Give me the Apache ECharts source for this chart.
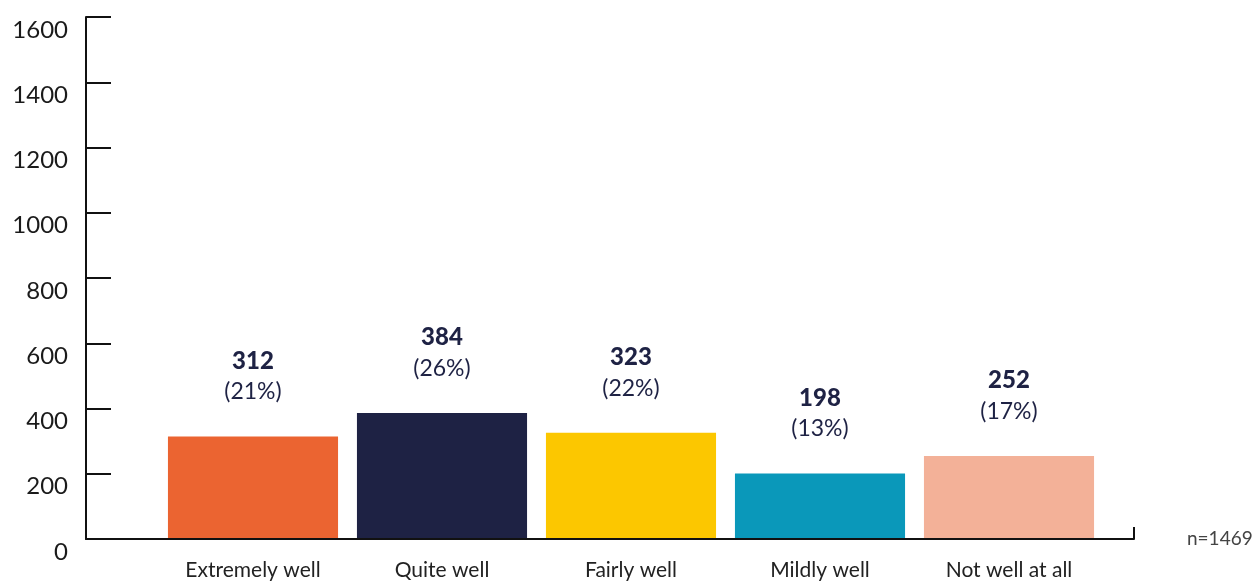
<!DOCTYPE html>
<html>
<head>
<meta charset="utf-8">
<script src="https://cdn.jsdelivr.net/npm/echarts@6/dist/echarts.min.js"></script>
<style>
  html, body { margin: 0; padding: 0; background: #fff; }
  #chart { width: 1256px; height: 581px; }
</style>
</head>
<body>
<div id="chart"></div>
<script>
// categories and counts
var categories = ['Extremely well', 'Quite well', 'Fairly well', 'Mildly well', 'Not well at all'];
var counts = [312, 384, 323, 198, 252];
var percents = ['21%', '26%', '22%', '13%', '17%'];
var barColors = ['#EB6431', '#1E2244', '#FCC700', '#0A98BA', '#F3B198'];
var yTicks = [0, 200, 400, 600, 800, 1000, 1200, 1400, 1600];
var sampleNote = 'n=1469';

var labelFont = 'Lato, "Open Sans", sans-serif';

var barData = [];
for (var i = 0; i < counts.length; i++) {
    barData.push({
        value: counts[i],
        itemStyle: { color: barColors[i] },
        pct: percents[i]
    });
}

var myChart = echarts.init(document.getElementById('chart'));
var option = {
    animation: false,
    grid: [
        // axes frame
        { left: 86, right: 122, top: 17, bottom: 42 },
        // bars sit in an inner band
        { left: 158.5, right: 152.5, top: 17, bottom: 42 }
    ],
    xAxis: [
        {
            gridIndex: 0,
            type: 'value',
            min: 0,
            max: 1,
            interval: 1,
            axisLine: { show: true, lineStyle: { color: '#111', width: 2 } },
            axisTick: { show: true, inside: true, length: 12, lineStyle: { color: '#111', width: 2 } },
            axisLabel: { show: false },
            splitLine: { show: false }
        },
        {
            gridIndex: 1,
            type: 'category',
            data: categories,
            axisLine: { show: false },
            axisTick: { show: false },
            axisLabel: {
                margin: 22,
                color: '#222',
                fontSize: 21,
                fontFamily: labelFont
            }
        }
    ],
    yAxis: [
        {
            gridIndex: 0,
            type: 'value',
            min: yTicks[0],
            max: yTicks[yTicks.length - 1],
            interval: 200,
            axisLine: { show: true, lineStyle: { color: '#111', width: 2 } },
            axisTick: { show: true, inside: true, length: 25, lineStyle: { color: '#111', width: 2 } },
            splitLine: { show: false },
            axisLabel: {
                margin: 18,
                color: '#1a1a1a',
                fontSize: 24,
                fontFamily: labelFont,
                verticalAlign: 'top',
                padding: [1, 0, 0, 0],
                formatter: function (v) { return String(v); }
            }
        },
        {
            gridIndex: 1,
            type: 'value',
            min: yTicks[0],
            max: yTicks[yTicks.length - 1],
            show: false
        }
    ],
    series: [
        {
            type: 'bar',
            xAxisIndex: 1,
            yAxisIndex: 1,
            barCategoryGap: '10%',
            data: barData,
            label: {
                show: true,
                position: 'top',
                distance: 29,
                formatter: function (p) {
                    return '{n|' + p.value + '}\n{p|(' + p.data.pct + ')}';
                },
                rich: {
                    n: {
                        fontFamily: labelFont,
                        fontWeight: 900,
                        fontSize: 24,
                        color: '#1E2244',
                        lineHeight: 31
                    },
                    p: {
                        fontFamily: labelFont,
                        fontSize: 23,
                        color: '#1E2244',
                        lineHeight: 31
                    }
                }
            }
        }
    ],
    graphic: [
        {
            type: 'text',
            left: 1187,
            top: 529,
            style: {
                text: sampleNote,
                fontFamily: labelFont,
                fontSize: 19,
                fill: '#444'
            }
        }
    ]
};
myChart.setOption(option);
</script>
</body>
</html>
